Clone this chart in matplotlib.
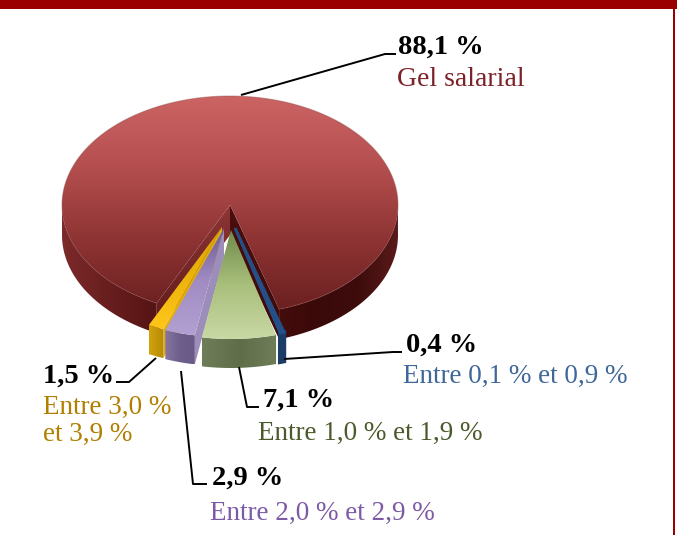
import numpy as np
import matplotlib
matplotlib.use("Agg")
import matplotlib.pyplot as plt
from matplotlib.colors import LinearSegmentedColormap
from matplotlib.patches import Polygon, Rectangle

# shares in %, clockwise from the right edge of the gap in the big slice
names = ['Entre 0,1 % et 0,9 %', 'Entre 1,0 % et 1,9 %', 'Entre 2,0 % et 2,9 %', 'Entre 3,0 %\net 3,9 %']
small_shares = [0.4, 7.1, 2.9, 1.5]
big_share = 88.1
big_name = 'Gel salarial'
pct_labels = ['0,4 %', '7,1 %', '2,9 %', '1,5 %']
big_label = '88,1 %'

start_angle = 17.0
rx, ry = 168, 109
depth = 29

fig = plt.figure(figsize=(6.77, 5.35), dpi=100)
ax = fig.add_axes([0, 0, 1, 1])
ax.set_xlim(0, 677)
ax.set_ylim(535, 0)
ax.axis('off')


def pts(cx, cy, a1, a2, n=80):
    t = np.radians(np.linspace(a1, a2, n))
    return np.column_stack([cx + rx * np.sin(t), cy + ry * np.cos(t)])


def grad_poly(xy, colors, horizontal=False, z=2):
    # polygon filled with a linear gradient, clipped image on its bounding box
    xy = np.asarray(xy)
    x0, x1 = xy[:, 0].min(), xy[:, 0].max()
    y0, y1 = xy[:, 1].min(), xy[:, 1].max()
    cmap = LinearSegmentedColormap.from_list('g', colors)
    g = np.linspace(0, 1, 256)
    g = g.reshape(1, -1) if horizontal else g.reshape(-1, 1)
    im = ax.imshow(g, cmap=cmap, extent=[x0, x1, y1, y0], aspect='auto', zorder=z, interpolation='bilinear')
    patch = Polygon(xy, closed=True, transform=ax.transData, fc='none', ec='none')
    ax.add_patch(patch)
    im.set_clip_path(patch)
    ax.set_xlim(0, 677)
    ax.set_ylim(535, 0)


def side_face(arc, d):
    return np.vstack([arc, arc[::-1] + [0, d]])


def wall(cx, cy, p, d):
    return np.array([[cx, cy], p, p + [0, d], [cx, cy + d]])


# frame
ax.add_patch(Rectangle((0, 0), 677, 9, fc='#9b0000', ec='none', zorder=1))
ax.add_patch(Rectangle((673, 0), 2, 535, fc='#9b0000', ec='none', zorder=1))

# big slice
angles = np.cumsum([start_angle] + [-s * 3.6 for s in small_shares])
big_c = (230, 205)
big_a1 = angles[0]
big_a2 = angles[0] + big_share * 3.6
arc = pts(*big_c, big_a1, big_a2, 300)
front = arc[(arc[:, 1] > big_c[1] - 3)]
right_part = front[front[:, 0] > big_c[0]]
left_part = front[front[:, 0] < big_c[0]]
grad_poly(side_face(right_part, 30), ['#450c0c', '#3a0909', '#3e0c0c', '#5a1a1a'], horizontal=True, z=2)
grad_poly(side_face(left_part, 30), ['#7c2a2a', '#681e1e', '#561414'], horizontal=True, z=2)
grad_poly(wall(*big_c, arc[0], 30), ['#4c0e0e', '#3e0a0a'], z=3)
grad_poly(wall(*big_c, arc[-1], 30), ['#8e3636', '#5e1818'], z=3)
top = np.vstack([[big_c], arc])
grad_poly(top, ['#cc6464', '#b54f4f', '#8f3434', '#6c2020'], z=4)
ax.plot(arc[:, 0], arc[:, 1], color='#8c4a4a', lw=0.8, alpha=0.4, zorder=5)

# small slices: offset centres, top colours (apex to rim), side colour
centres = [(235, 228), (231, 230), (224, 228), (222, 227)]
top_cols = [('#1d3c6c', '#24508a'), ('#6f8a4a', '#a9bf7c', '#c9d8a4'), ('#6d5a93', '#a08cc2', '#b3a0d2'), ('#d9a300', '#ffc61a')]
side_cols = [('#1c3c68', '#1a3358'), ('#6f7d58', '#5f6e49', '#6f7d58'), ('#85759f', '#6e5e8c', '#6a5a88'), ('#d2a10c', '#b58a06')]
wall_cols = [None, None, '#9d8dba', '#e2ad10']
order = [3, 2, 0, 1]
for n, i in enumerate(order):
    a1, a2 = angles[i], angles[i + 1]
    cx, cy = centres[i]
    arc_s = pts(cx, cy, a1, a2, 40)
    # wall on the right hand side of the slice
    if wall_cols[i]:
        ax.add_patch(Polygon(wall(cx, cy, arc_s[0], depth), fc=wall_cols[i], ec='none', zorder=6 + n))
    if small_shares[i] < 1:
        # a very thin slice gets an outline or it would vanish
        ax.add_patch(Polygon(side_face(arc_s, depth), fc=side_cols[i][0], ec=side_cols[i][0], lw=3, zorder=6 + n))
        ax.add_patch(Polygon(np.vstack([[(cx, cy)], arc_s]), fc=top_cols[i][1], ec=top_cols[i][1], lw=2, zorder=6.4 + n))
    else:
        grad_poly(side_face(arc_s, depth), side_cols[i], horizontal=True, z=6.2 + n)
        grad_poly(np.vstack([[(cx, cy)], arc_s]), top_cols[i], z=6.4 + n)

# leader lines
leaders = [
    ([241, 385, 396], [95, 54, 54]),
    ([284, 393, 402], [359, 352, 352]),
    ([239, 247, 259], [367, 407, 407]),
    ([181, 193, 207], [371, 484, 484]),
    ([156, 129, 116], [358, 382, 382]),
]
for xs, ys in leaders:
    ax.plot(xs, ys, color='black', lw=1.4, zorder=12, solid_capstyle='butt')

# labels
serif = 'Liberation Serif'
bold_size, name_size = 20.5, 19.5
ax.text(398, 47, big_label, fontsize=bold_size, fontweight='bold', family=serif, color='black', va='center', zorder=13)
ax.text(397, 80, big_name, fontsize=name_size + 0.5, family=serif, color='#7b2226', va='center', zorder=13)

label_pos = [(406, 345), (263, 400), (212, 478), (43, 376)]
name_pos = [(403, 376), (258, 433), (210, 513), (43, 421)]
name_cols = ['#3f6798', '#4a5a2c', '#7b5ba5', '#b07f00']
for i in range(4):
    ax.text(*label_pos[i], pct_labels[i], fontsize=bold_size, fontweight='bold', family=serif, color='black', va='center', zorder=13)
    ax.text(*name_pos[i], names[i], fontsize=name_size, family=serif, color=name_cols[i], va='center', linespacing=1.1, zorder=13)

fig.savefig('out.png', dpi=100)
